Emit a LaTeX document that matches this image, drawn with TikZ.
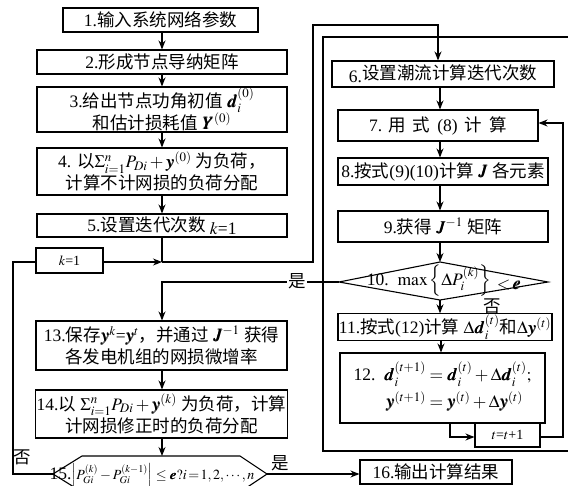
\documentclass[tikz,border=0pt]{standalone}
\usepackage{mathptmx}
\usepackage{bm}
\usepackage{fontspec}
\setmainfont{Liberation Serif}
\newfontfamily\cjk{Noto Sans CJK SC}
\usetikzlibrary{arrows.meta}
\newcommand\fs{\fontsize{17.5}{22}\selectfont}
\newcommand\fsm{\fontsize{14}{17}\selectfont}
\tikzset{
  box/.style={draw, line width=1.1pt, inner sep=1pt, align=center, font=\fs},
  ar/.style={-{Stealth[length=9pt,width=7pt]}, line width=1.1pt},
  ln/.style={line width=1.1pt},
  lab/.style={font=\fs, inner sep=1pt}
}
\begin{document}
\begin{tikzpicture}[x=1pt,y=-1pt]
\useasboundingbox (0,0) rectangle (568,485);
\clip (0,0) rectangle (568,485);
% left column
\node[box, minimum width=195pt, minimum height=24pt] (b1) at (160.5,20) {1.{\cjk 输入系统网络参数}};
\node[box, minimum width=250pt, minimum height=24pt] (b2) at (162,62) {2.{\cjk 形成节点导纳矩阵}};
\node[box, minimum width=250pt, minimum height=45pt] (b3) at (162,109.5) {3.{\cjk 给出节点功角初值} $\bm{d}_i^{(0)}$\\ {\cjk 和估计损耗值} $\bm{Y}^{(0)}$};
\node[box, minimum width=250pt, minimum height=47pt] (b4) at (162,171.5) {4. {\cjk 以}$\Sigma_{i=1}^{n}P_{Di}+\bm{y}^{(0)}$ {\cjk 为负荷，}\\ {\cjk 计算不计网损的负荷分配}};
\node[box, minimum width=250pt, minimum height=23pt] (b5) at (162,225.5) {5.{\cjk 设置迭代次数} \raisebox{-3pt}{$k$=1}};
\node[box, minimum width=67pt, minimum height=25pt, font=\fsm] (bk) at (69.5,260.5) {\raisebox{-5pt}{$k$=1}};
\node[box, minimum width=251pt, minimum height=49pt] (b13) at (161.5,345.5) {13.{\cjk 保存}$\bm{y}^k$=$\bm{y}^t${\cjk ，并通过} $\bm{J}^{-1}$ {\cjk 获得}\\ {\cjk 各发电机组的网损微增率}};
\node[box, minimum width=251pt, minimum height=48pt] (b14) at (161.5,414) {14.{\cjk 以} $\Sigma_{i=1}^{n}P_{Di}+\bm{y}^{(k)}$ {\cjk 为负荷，计算}\\ {\cjk 计网损修正时的负荷分配}};
% hexagon 15
\coordinate (hl) at (53,474);
\coordinate (hr) at (267,474);
\draw[ln] (hl) -- (82,456) -- (240,456) -- (hr) -- (240,492) -- (82,492) -- cycle;
\node[lab, font=\fsm] (b15) at (152,476) {{\fs 15.}$\left|P_{Gi}^{(k)}-P_{Gi}^{(k-1)}\right|\le \bm{e}?i\!=\!1,2,\cdots,n$};
\node[box, minimum width=152pt, minimum height=24pt] (b16) at (436,472) {16.{\cjk 输出计算结果}};
% right frame
\draw[line width=1.5pt] (568,37) -- (323,37) -- (323,451) -- (568,451);
\node[box, minimum width=222pt, minimum height=26pt] (b6) at (443,74) {\raisebox{-3pt}{6.}{\cjk 设置潮流计算迭代次数}};
\node[box, minimum width=200pt, minimum height=31pt] (b7) at (438,125.5) {7.\hspace{6pt}{\cjk 用}\hspace{7pt}{\cjk 式}\hspace{7pt}(8)\hspace{7pt}{\cjk 计}\hspace{7pt}{\cjk 算}};
\node[box, minimum width=210pt, minimum height=27pt] (b8) at (443,171.5) {8.{\cjk 按式}(9)(10){\cjk 计算} $\bm{J}$ {\cjk 各元素}};
\node[box, minimum width=210pt, minimum height=31pt] (b9) at (443,226.5) {9.{\cjk 获得} $\bm{J}^{-1}$ {\cjk 矩阵}};
% diamond 10
\coordinate (dl) at (339,282);
\coordinate (dt) at (440,262);
\coordinate (dr) at (548,282);
\coordinate (db) at (440,300);
\draw[ln] (dl) -- (dt) -- (dr) -- (db) -- cycle;
\node[lab] (b10) at (444,281) {10.\ \ $\max\left\{\Delta P_i^{(k)}\right\}$\hspace{6pt}\raisebox{-4pt}{$<\!\bm{e}$}};
\node[box, minimum width=210pt, minimum height=26pt] (b11) at (445,327) {11.{\cjk 按式}(12){\cjk 计算} $\Delta\bm{d}_i^{(t)}${\cjk 和}$\Delta\bm{y}^{(t)}$};
\node[box, minimum width=205pt, minimum height=70pt, fill=white] (b12) at (442.5,388) {$\begin{array}{@{}r@{\;}l@{}}\mbox{12.}\ \ \bm{d}_i^{(t+1)} &= \bm{d}_i^{(t)}+\Delta\bm{d}_i^{(t)};\\[4pt] \bm{y}^{(t+1)} &= \bm{y}^{(t)}+\Delta\bm{y}^{(t)}\end{array}$};
\node[box, minimum width=65pt, minimum height=24pt, font=\fsm] (bt) at (507.5,435) {\raisebox{-3pt}{$t$=$t$+1}};
% connectors left
\draw[ar] (b1.south -| 162,0) -- (b2.north -| 162,0);
\draw[ar] (b2.south -| 162,0) -- (b3.north -| 162,0);
\draw[ar] (b3.south -| 162,0) -- (b4.north -| 162,0);
\draw[ar] (b4.south -| 162,0) -- (b5.north -| 162,0);
\coordinate (j1) at (162,262);
\draw[ln] (b5.south -| 162,0) -- (j1);
\draw[ar] (bk.east |- j1) -- (j1);
\draw[ar] (j1) -- (313,262) -- (313,25) -- (438,25) -- (b6.north -| 438,0);
\draw[ar] (b13.south -| 162,0) -- (b14.north -| 162,0);
\draw[ar] (b14.south -| 162,0) -- (162,456);
% right column connectors
\draw[ar] (b6.south -| 440,0) -- (b7.north -| 440,0);
\draw[ar] (b7.south -| 440,0) -- (b8.north -| 440,0);
\draw[ar] (b8.south -| 440,0) -- (b9.north -| 440,0);
\draw[ar] (b9.south -| 440,0) -- (dt);
\draw[ar] (db) -- (b11.north -| 440,0);
\draw[ar] (b11.south -| 441,0) -- (b12.north -| 441,0);
\draw[ar] (b12.south -| 450,0) -- (450,437) -- (bt.west |- 0,437);
\draw[ar] (bt.east |- 0,437) -- (563,437) -- (563,123) -- (b7.east |- 0,123);
% yes / no branches
\draw[ar] (dl) -- (162,282) -- (b13.north -| 162,0);
\node[lab, fill=white] at (297,281) {\cjk 是};
\node[lab] at (492,306) {\cjk 否};
\draw[ln] (hl) -- (13,474) -- (13,262) -- (bk.west |- 0,262);
\node[lab] at (22,457) {\cjk 否};
\draw[ar] (hr) -- (b16.west |- hr);
\node[lab] at (280,463) {\cjk 是};
\end{tikzpicture}
\end{document}
